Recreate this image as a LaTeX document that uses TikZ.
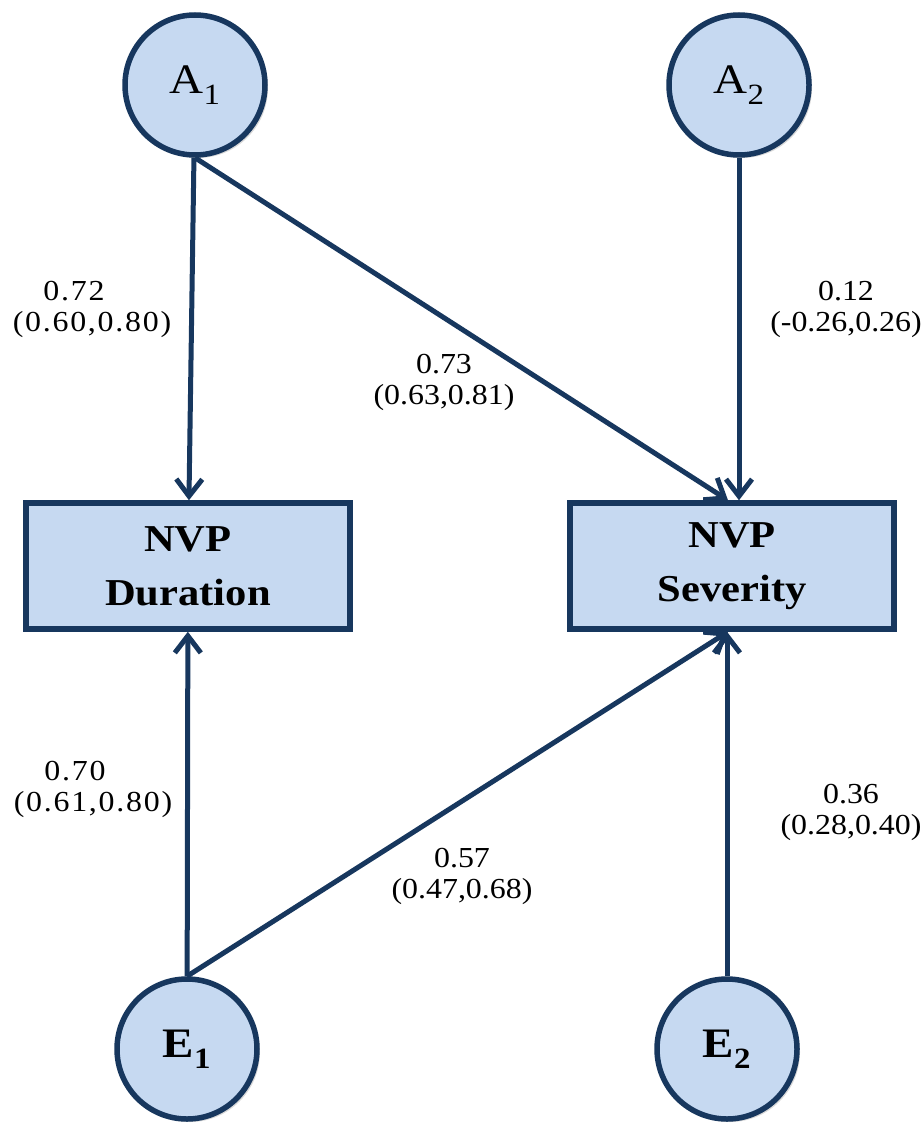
\documentclass[tikz,border=0pt]{standalone}
\usepackage{fontspec}
\setmainfont{Liberation Serif}
\newfontfamily\boxfont[FakeStretch=1.12]{Liberation Serif}
\newfontfamily\coeffont[FakeStretch=1.1]{Liberation Serif}
\newfontfamily\coefwidefont[FakeStretch=1.1,LetterSpace=6]{Liberation Serif}
\usetikzlibrary{arrows.meta,shadows}
\definecolor{nodefill}{RGB}{198,217,241}
\definecolor{navy}{RGB}{23,55,94}

\begin{document}
\begin{tikzpicture}[x=1pt,y=-1pt]
\tikzset{latent/.style = {shape=circle,draw=navy,fill=nodefill,line width=5.5pt,minimum size=140pt,inner sep=0pt,
  font=\boxfont\fontsize{42}{42}\selectfont,drop shadow={shadow xshift=3pt,shadow yshift=-3pt,opacity=0.3}}}
\tikzset{observed/.style = {shape=rectangle,draw=navy,fill=nodefill,line width=5.5pt,minimum width=324pt,minimum height=126pt,
  align=center,font=\boxfont\bfseries\fontsize{38}{54}\selectfont,drop shadow={shadow xshift=3pt,shadow yshift=-3pt,opacity=0.3}}}
\tikzset{edge/.style = {-{Straight Barb[length=17pt,width=26pt]},draw=navy,line width=5pt}}
\tikzset{coef/.style = {align=center,font=\coeffont\fontsize{29}{31}\selectfont}}
\tikzset{coefwide/.style = {align=center,font=\coefwidefont\fontsize{29}{31}\selectfont}}
\useasboundingbox (0,0) rectangle (923,1123);
% latent factors
\node[latent] (A1) at (195,85) {A\textsubscript{1}};
\node[latent] (A2) at (739,85) {A\textsubscript{2}};
\node[latent] (E1) at (187,1049) {\textbf{E\textsubscript{1}}};
\node[latent] (E2) at (727,1049) {\textbf{E\textsubscript{2}}};
% observed
\node[observed] (dur) at (188,566) {NVP\\Duration};
\node[observed] (sev) at (732,566) {NVP\\Severity};
% coefficients
\node[coefwide] (cA1d) at (92,309) {\hspace*{-36pt}0.72\\(0.60,0.80)};
\node[coef] (cA1s) at (444,382) {0.73\\(0.63,0.81)};
\node[coef] (cA2s) at (846,309) {0.12\\(-0.26,0.26)};
\node[coefwide] (cE1d) at (93,789) {\hspace*{-36pt}0.70\\(0.61,0.80)};
\node[coef] (cE1s) at (462,876) {0.57\\(0.47,0.68)};
\node[coef] (cE2s) at (851,812) {0.36\\(0.28,0.40)};
%edges
\draw[edge] (A1) -- (dur);
\draw[edge] (A1.south) -- ([xshift=-4pt]sev.north);
\draw[edge] (A2) -- (A2 |- sev.north);
\draw[edge] (E1) -- (dur);
\draw[edge] (E1.north) -- ([xshift=-4pt]sev.south);
\draw[edge] (E2) -- (E2 |- sev.south);
\end{tikzpicture}
\end{document}
